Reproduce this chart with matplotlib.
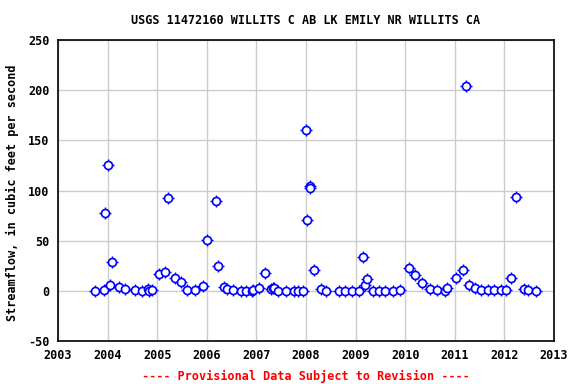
import matplotlib
matplotlib.use("Agg")
import matplotlib.pyplot as plt

# Decimal-year dates and streamflow (cfs)
years = [2003.737, 2003.924, 2003.938, 2004.005, 2004.045, 2004.086, 2004.227, 2004.342,
         2004.544, 2004.699, 2004.812, 2004.832, 2004.893, 2005.034, 2005.155, 2005.216,
         2005.357, 2005.472, 2005.599, 2005.761, 2005.930, 2006.003, 2006.179, 2006.219,
         2006.346, 2006.401, 2006.536, 2006.697, 2006.784, 2006.905, 2006.931, 2007.052,
         2007.168, 2007.303, 2007.343, 2007.363, 2007.444, 2007.591, 2007.753, 2007.848,
         2007.940, 2008.001, 2008.015, 2008.082, 2008.084, 2008.162, 2008.298, 2008.405,
         2008.661, 2008.788, 2008.929, 2009.065, 2009.145, 2009.192, 2009.226, 2009.341,
         2009.474, 2009.595, 2009.757, 2009.898, 2010.080, 2010.199, 2010.340, 2010.497,
         2010.645, 2010.806, 2010.847, 2011.028, 2011.170, 2011.230, 2011.291, 2011.412,
         2011.527, 2011.668, 2011.789, 2011.924, 2012.025, 2012.126, 2012.239, 2012.401,
         2012.481, 2012.643]
flow = [0.3, 0.7, 77.2, 125.5, 5.7, 28.9, 3.7, 1.7,
        0.7, 0.1, 2.3, 0.1, 0.7, 17.1, 18.8, 92.6,
        12.8, 9.1, 0.7, 0.7, 4.7, 51.0, 89.2, 24.8,
        4.0, 2.0, 0.7, 0.1, 0.1, 0.3, 0.7, 3.0,
        17.8, 1.7, 3.3, 2.7, 0.3, 0.3, 0.1, 0.3,
        0.3, 160.7, 70.1, 104.0, 102.0, 20.8, 1.7, 0.3,
        0.1, 0.1, 0.3, 0.3, 34.2, 5.7, 11.8, 0.3,
        0.3, 0.3, 0.1, 0.5, 22.8, 15.8, 7.8, 1.7,
        0.7, 0.1, 2.7, 12.8, 20.8, 203.9, 5.7, 2.7,
        0.7, 0.7, 0.7, 0.7, 0.7, 12.8, 93.3, 1.7,
        0.7, 0.1]

x_ticks = list(range(2003, 2014))
y_ticks = [-50, 0, 50, 100, 150, 200, 250]

title = "USGS 11472160 WILLITS C AB LK EMILY NR WILLITS CA"
ylabel = "Streamflow, in cubic feet per second"
footer = "---- Provisional Data Subject to Revision ----"

font = ["DejaVu Sans Mono"]

fig = plt.figure(figsize=(5.76, 3.84), dpi=100)
ax = fig.add_axes([58/576, 1-341/384, (554-58)/576, (341-40)/384])

ax.plot(years, flow, linestyle="none", marker="+", markersize=8.6,
        markeredgecolor="blue", markeredgewidth=1.0, zorder=3)
ax.plot(years, flow, linestyle="none", marker="o", markersize=5.8,
        markerfacecolor="white", markeredgecolor="blue", markeredgewidth=1.2, zorder=4)

ax.set_xlim(2003, 2013)
ax.set_ylim(-50, 250)
ax.set_xticks(x_ticks)
ax.set_yticks(y_ticks)
ax.set_xticklabels([str(t) for t in x_ticks], family=font, fontweight="bold", fontsize=8.5)
ax.set_yticklabels([str(t) for t in y_ticks], family=font, fontweight="bold", fontsize=8.5)
ax.tick_params(axis="both", length=0, pad=6)
ax.grid(True, color="#cccccc", linewidth=1.0)
ax.set_axisbelow(True)
for s in ax.spines.values():
    s.set_linewidth(1.2)
    s.set_color("black")

fig.text(306/576, 1-20/384, title, ha="center", va="center", family=font,
         fontweight="bold", fontsize=8.5)
fig.text(12/576, 1-193/384, ylabel, ha="center", va="center", rotation=90,
         family=font, fontweight="bold", fontsize=8.5)
fig.text(306/576, 1-376/384, footer, ha="center", va="center", family=font,
         fontweight="bold", fontsize=8.5, color="red")

fig.savefig("out.png", dpi=100)
